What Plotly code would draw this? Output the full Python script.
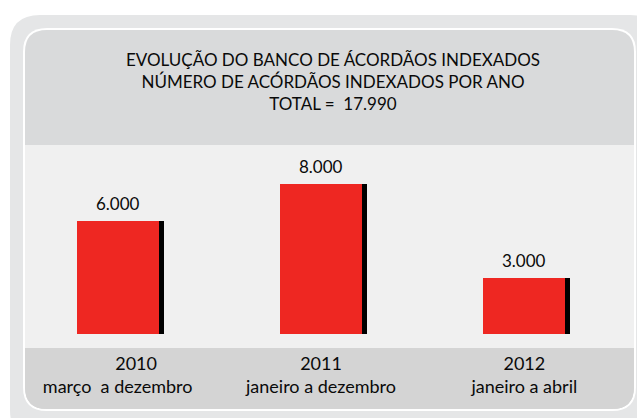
import plotly.graph_objects as go

# ---------------- data ----------------
years = ["2010", "2011", "2012"]
periods = ["março\u00a0\u00a0a dezembro", "janeiro a dezembro", "janeiro a abril"]
values = [6000, 8000, 3000]
title_lines = [
    "EVOLUÇÃO DO BANCO DE ÁCORDÃOS INDEXADOS",
    "NÚMERO DE ACÓRDÃOS INDEXADOS POR ANO",
    "TOTAL =  17.990",
]

# ---------------- style ----------------
W, H = 637, 418
ML, MR, MT, MB = 16, 11, 145, 84
FONT = "Lato, 'Open Sans', sans-serif"
RED = "#ee2722"
TXT = "#0a0a0a"
year_pad = [8, 0, 0]  # non-breaking spaces before the year (off-centre label in source)

PW = W - ML - MR
PH = H - MT - MB


def px(x):
    return (x - ML) / PW


def py(y):
    return (H - MB - y) / PH


def roundrect(x0, y0, x1, y1, r):
    # pixel coords -> path in paper coords
    pts = [
        f"M {px(x0 + r)} {py(y0)}",
        f"L {px(x1 - r)} {py(y0)}",
        f"Q {px(x1)} {py(y0)} {px(x1)} {py(y0 + r)}",
        f"L {px(x1)} {py(y1 - r)}",
        f"Q {px(x1)} {py(y1)} {px(x1 - r)} {py(y1)}",
        f"L {px(x0 + r)} {py(y1)}",
        f"Q {px(x0)} {py(y1)} {px(x0)} {py(y1 - r)}",
        f"L {px(x0)} {py(y0 + r)}",
        f"Q {px(x0)} {py(y0)} {px(x0 + r)} {py(y0)}",
        "Z",
    ]
    return " ".join(pts)


def fmt(v):
    return f"{v:,}".replace(",", ".")


bar_w = 0.403
shadow_dx = 0.025

fig = go.Figure()
# shadow
fig.add_trace(go.Bar(
    x=years, y=values, width=bar_w, offset=-bar_w / 2 + shadow_dx,
    marker=dict(color="#000000", line=dict(width=0)), hoverinfo="skip",
    showlegend=False,
))
# main bars
fig.add_trace(go.Bar(
    x=years, y=values, width=bar_w, offset=-bar_w / 2,
    marker=dict(color=RED, line=dict(width=0)), showlegend=False,
))

shapes = [
    dict(type="path", path=roundrect(10, 15, 660, 440, 30), xref="paper", yref="paper",
         fillcolor="#e5e6e7", line=dict(width=0), layer="below"),
    dict(type="path", path=roundrect(23, 28, 636, 411, 24), xref="paper", yref="paper",
         fillcolor="#ffffff", line=dict(width=0), layer="below"),
    dict(type="path", path=roundrect(25, 30, 634, 409, 22), xref="paper", yref="paper",
         fillcolor="#d9dadb", line=dict(width=0), layer="below"),
    dict(type="path", path=roundrect(25, 250, 634, 409, 22), xref="paper", yref="paper",
         fillcolor="#d4d4d4", line=dict(width=0), layer="below"),
    dict(type="rect", x0=px(25), x1=px(634), y0=py(348), y1=py(145), xref="paper", yref="paper",
         fillcolor="#f0f0f0", line=dict(width=0), layer="below"),
]

annotations = [
    dict(x=i, y=v, xref="x", yref="y", text=fmt(v), showarrow=False,
         yanchor="bottom", yshift=5, font=dict(family=FONT, size=17, color=TXT))
    for i, v in enumerate(values)
]

ticktext = [("\u00a0" * p) + yr + "<br>" + per for yr, per, p in zip(years, periods, year_pad)]

fig.update_layout(
    width=W, height=H,
    margin=dict(l=ML, r=MR, t=MT, b=MB, pad=0),
    paper_bgcolor="#ffffff", plot_bgcolor="rgba(0,0,0,0)",
    barmode="overlay", bargap=0,
    title=dict(text="<br>".join(title_lines), x=333 / W, xanchor="center",
               y=1 - 66 / H, yanchor="middle",
               font=dict(family=FONT, size=17, color=TXT)),
    xaxis=dict(type="category", range=[-0.5, 2.5], tickmode="array", tickvals=years,
               ticktext=ticktext, ticks="outside", ticklen=13, tickcolor="rgba(0,0,0,0)",
               showgrid=False, zeroline=False, showline=False,
               tickfont=dict(family=FONT, size=18, color=TXT)),
    yaxis=dict(range=[0, 10050], visible=False, showgrid=False, zeroline=False),
    shapes=shapes,
    annotations=annotations,
    showlegend=False,
)

fig.write_html("out.html", config={"displayModeBar": False},
               post_script="document.body.style.margin='0';")
